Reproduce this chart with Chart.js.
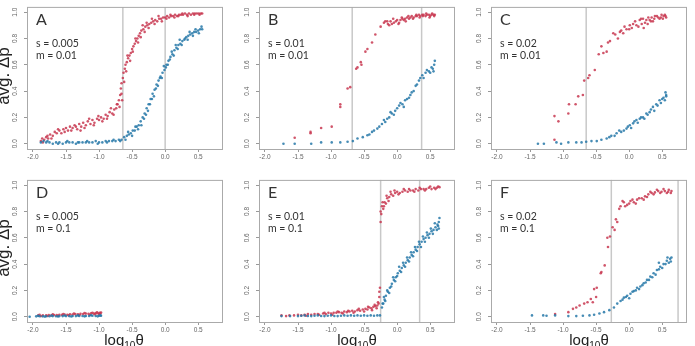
<!DOCTYPE html>
<html>
<head>
<meta charset="utf-8">
<script src="https://cdn.jsdelivr.net/npm/chart.js@4.4.1/dist/chart.umd.min.js"></script>
<style>
  body { margin: 0; background: #fff; width: 695px; height: 346px; position: relative; overflow: hidden; }
  .panel { position: absolute; width: 232px; height: 173px; }
  .tag { position: absolute; font-family: Lato, sans-serif; color: #333; }
  .letter { font-size: 16px; line-height: 16px; }
  .params { font-size: 10.5px; line-height: 12px; }
  .ylab { position: absolute; font-family: "Liberation Sans", sans-serif; font-size: 17px; color: #222;
          transform: translate(-50%, -50%) rotate(-90deg); white-space: nowrap; }
  .xlab { position: absolute; font-family: "Liberation Sans", sans-serif; font-size: 15px; color: #222;
          transform: translateX(-50%); white-space: nowrap; }
  .xlab sub { font-size: 10px; }
</style>
</head>
<body>
<script>
// axis ticks shared by all panels
const xTicks = [-2.0, -1.5, -1.0, -0.5, 0.0, 0.5];
const yTicks = [0.0, 0.2, 0.4, 0.6, 0.8, 1.0];

// panel labels
const letters = ['A', 'B', 'C', 'D', 'E', 'F'];
const sValues = ['0.005', '0.01', '0.02', '0.005', '0.01', '0.02'];
const mValues = ['0.01', '0.01', '0.01', '0.1', '0.1', '0.1'];

// vertical reference lines (log10 theta)
const linesA = [-0.64, 0.0];
const linesB = [-0.68, 0.37];
const linesC = [-0.65];
const linesD = [];
const linesE = [-0.25, 0.34];
const linesF = [-0.27, 0.74];

// [log10 theta, avg dp]
const redA = [[-1.88,0.02],[-1.86,0.04],[-1.83,0.03],[-1.8,0.05],[-1.77,0.04],[-1.74,0.07],[-1.7,0.06],[-1.67,0.09],[-1.64,0.08],[-1.6,0.1],[-1.57,0.08],[-1.54,0.11],[-1.5,0.12],[-1.47,0.1],[-1.44,0.13],[-1.4,0.12],[-1.37,0.14],[-1.33,0.11],[-1.3,0.15],[-1.27,0.13],[-1.24,0.16],[-1.2,0.14],[-1.17,0.17],[-1.13,0.15],[-1.1,0.18],[-1.07,0.16],[-1.03,0.19],[-1.0,0.18],[-0.97,0.2],[-0.93,0.19],[-0.9,0.22],[-0.87,0.21],[-0.84,0.24],[-0.8,0.23],[-0.77,0.26],[-0.74,0.27],[-0.72,0.3],[-0.7,0.33],[-0.68,0.37],[-0.67,0.42],[-0.66,0.46],[-0.64,0.5],[-0.63,0.54],[-0.61,0.57],[-0.6,0.6],[-0.58,0.62],[-0.56,0.65],[-0.54,0.67],[-0.52,0.69],[-0.5,0.72],[-0.48,0.74],[-0.46,0.76],[-0.44,0.78],[-0.42,0.8],[-0.4,0.82],[-0.38,0.84],[-0.36,0.86],[-0.33,0.87],[-0.3,0.89],[-0.27,0.9],[-0.24,0.91],[-0.21,0.92],[-0.18,0.93],[-0.15,0.94],[-0.12,0.93],[-0.09,0.95],[-0.06,0.95],[-0.03,0.96],[0.0,0.96],[0.03,0.97],[0.06,0.96],[0.09,0.97],[0.12,0.97],[0.15,0.98],[0.18,0.97],[0.21,0.98],[0.24,0.98],[0.27,0.98],[0.3,0.99],[0.33,0.98],[0.36,0.99],[0.39,0.98],[0.42,0.99],[0.45,0.99],[0.48,0.99],[0.51,0.99],[0.54,0.99],[0.56,0.99],
    [-1.85,0.01],[-1.78,0.06],[-1.72,0.04],[-1.62,0.11],[-1.52,0.09],[-1.42,0.1],[-1.35,0.13],[-1.28,0.1],[-1.22,0.12],[-1.15,0.19],[-1.08,0.14],[-1.01,0.21],[-0.95,0.17],[-0.88,0.19],[-0.82,0.27],[-0.78,0.22],[-0.73,0.3],[-0.69,0.28],[-0.66,0.38],[-0.65,0.33],[-0.62,0.47],[-0.59,0.55],[-0.57,0.67],[-0.53,0.63],[-0.49,0.7],[-0.45,0.8],[-0.41,0.77],[-0.37,0.81],[-0.34,0.9],[-0.31,0.85],[-0.28,0.92],[-0.25,0.88],[-0.2,0.95],[-0.16,0.91],[-0.1,0.97],[-0.05,0.93],[0.02,0.95],[0.08,0.98],[0.14,0.96],[0.2,0.97],[0.26,0.99],[0.34,0.97],[0.44,0.98],[0.52,0.98]];
const blueA = [[-1.88,0.01],[-1.84,0.02],[-1.8,0.01],[-1.75,0.01],[-1.7,0.0],[-1.65,0.01],[-1.6,0.01],[-1.55,0.0],[-1.5,0.01],[-1.45,0.01],[-1.4,0.01],[-1.35,0.0],[-1.3,0.01],[-1.25,0.01],[-1.2,0.01],[-1.15,0.01],[-1.1,0.01],[-1.05,0.02],[-1.0,0.01],[-0.95,0.01],[-0.9,0.02],[-0.85,0.02],[-0.8,0.02],[-0.75,0.02],[-0.7,0.03],[-0.66,0.03],[-0.62,0.05],[-0.58,0.06],[-0.55,0.07],[-0.52,0.08],[-0.49,0.1],[-0.46,0.1],[-0.43,0.13],[-0.4,0.14],[-0.37,0.17],[-0.34,0.2],[-0.31,0.23],[-0.28,0.27],[-0.25,0.3],[-0.22,0.34],[-0.19,0.38],[-0.16,0.41],[-0.13,0.45],[-0.1,0.48],[-0.07,0.51],[-0.04,0.54],[-0.01,0.56],[0.02,0.6],[0.05,0.63],[0.08,0.66],[0.11,0.68],[0.14,0.71],[0.17,0.73],[0.2,0.75],[0.23,0.76],[0.26,0.78],[0.29,0.79],[0.32,0.81],[0.35,0.82],[0.38,0.83],[0.41,0.84],[0.44,0.85],[0.47,0.85],[0.5,0.86],[0.53,0.87],[0.56,0.87],
    [-1.78,0.02],[-1.62,0.0],[-1.48,0.02],[-1.32,0.01],[-1.18,0.02],[-1.02,0.0],[-0.88,0.01],[-0.78,0.03],[-0.68,0.02],[-0.6,0.03],[-0.56,0.09],[-0.5,0.06],[-0.45,0.13],[-0.41,0.11],[-0.36,0.14],[-0.32,0.19],[-0.29,0.22],[-0.26,0.25],[-0.23,0.3],[-0.2,0.34],[-0.17,0.36],[-0.14,0.42],[-0.11,0.44],[-0.08,0.5],[-0.05,0.5],[-0.02,0.59],[0.01,0.58],[0.04,0.6],[0.07,0.64],[0.1,0.7],[0.13,0.67],[0.16,0.75],[0.19,0.72],[0.22,0.79],[0.25,0.75],[0.3,0.8],[0.34,0.79],[0.37,0.85],[0.42,0.82],[0.46,0.87],[0.51,0.84],[0.55,0.89]];

const redB = [[-1.55,0.045],[-1.31,0.08],[-1.31,0.09],[-1.15,0.12],[-0.99,0.13],[-0.86,0.3],[-0.86,0.28],[-0.75,0.42],[-0.71,0.43],[-0.62,0.57],[-0.6,0.58],[-0.55,0.62],[-0.54,0.6],[-0.48,0.7],[-0.45,0.72],[-0.38,0.77],[-0.33,0.83],[-0.25,0.89],[-0.2,0.92],[-0.18,0.93],[-0.14,0.91],[-0.12,0.9],[-0.1,0.93],[-0.08,0.91],[-0.05,0.92],[-0.02,0.93],[0.0,0.94],[0.03,0.92],[0.05,0.94],[0.08,0.95],[0.1,0.94],[0.12,0.95],[0.15,0.96],[0.18,0.95],[0.2,0.96],[0.22,0.97],[0.25,0.96],[0.28,0.97],[0.3,0.97],[0.33,0.98],[0.35,0.97],[0.38,0.98],[0.4,0.98],[0.43,0.97],[0.45,0.98],[0.48,0.98],[0.5,0.97],[0.52,0.98],[0.55,0.98],[0.57,0.98],
    [-0.15,0.93],[-0.06,0.95],[0.02,0.91],[0.07,0.96],[0.13,0.93],[0.17,0.97],[0.24,0.95],[0.29,0.98],[0.34,0.96],[0.39,0.97],[0.44,0.99],[0.49,0.96],[0.53,0.99],[0.56,0.97]];
const blueB = [[-1.72,0.0],[-1.55,0.0],[-1.3,0.0],[-1.15,0.01],[-0.99,0.01],[-0.86,0.01],[-0.75,0.015],[-0.67,0.02],[-0.6,0.04],[-0.52,0.05],[-0.45,0.065],[-0.38,0.09],[-0.3,0.115],[-0.23,0.15],[-0.18,0.165],[-0.12,0.2],[-0.08,0.23],[-0.03,0.25],[0.03,0.29],[0.08,0.3],[0.12,0.33],[0.18,0.35],[0.22,0.39],[0.28,0.44],[0.33,0.48],[0.38,0.52],[0.43,0.54],[0.48,0.55],[0.52,0.58],[0.57,0.63],
    [-0.42,0.07],[-0.35,0.1],[-0.27,0.13],[-0.2,0.18],[-0.15,0.19],[-0.1,0.24],[-0.05,0.22],[0.0,0.27],[0.05,0.31],[0.1,0.28],[0.15,0.34],[0.2,0.37],[0.25,0.4],[0.3,0.45],[0.35,0.5],[0.4,0.5],[0.45,0.56],[0.5,0.54],[0.54,0.57],[0.56,0.6],[0.55,0.55]];

const redC = [[-1.13,0.03],[-1.13,0.21],[-1.07,0.17],[-0.92,0.23],[-0.91,0.3],[-0.81,0.3],[-0.77,0.36],[-0.7,0.37],[-0.68,0.48],[-0.62,0.5],[-0.6,0.52],[-0.52,0.56],[-0.46,0.68],[-0.42,0.74],[-0.39,0.69],[-0.34,0.7],[-0.32,0.77],[-0.29,0.78],[-0.24,0.84],[-0.21,0.83],[-0.17,0.8],[-0.14,0.85],[-0.09,0.84],[-0.07,0.89],[-0.04,0.87],[0.01,0.9],[0.04,0.88],[0.09,0.93],[0.11,0.9],[0.16,0.94],[0.19,0.91],[0.21,0.95],[0.24,0.92],[0.29,0.96],[0.31,0.94],[0.34,0.96],[0.36,0.93],[0.39,0.97],[0.44,0.96],[0.46,0.95],[0.49,0.98],[0.52,0.97],[0.55,0.97],
    [0.0,0.87],[0.06,0.91],[0.14,0.89],[0.18,0.95],[0.26,0.94],[0.33,0.93],[0.38,0.95],[0.42,0.97],[0.48,0.96],[0.51,0.95],[0.54,0.98],[0.56,0.96],[0.22,0.88],[0.28,0.91],[-0.12,0.86]];
const blueC = [[-1.38,0.0],[-1.29,0.0],[-1.1,0.01],[-1.03,0.0],[-0.92,0.01],[-0.8,0.01],[-0.72,0.01],[-0.65,0.015],[-0.57,0.02],[-0.49,0.02],[-0.42,0.03],[-0.34,0.04],[-0.27,0.06],[-0.19,0.08],[-0.12,0.09],[-0.04,0.115],[0.01,0.14],[0.06,0.155],[0.11,0.18],[0.16,0.19],[0.21,0.2],[0.26,0.23],[0.31,0.24],[0.36,0.28],[0.41,0.3],[0.46,0.33],[0.52,0.35],[0.55,0.39],
    [-0.3,0.05],[-0.22,0.06],[-0.15,0.1],[-0.08,0.1],[-0.02,0.13],[0.03,0.12],[0.08,0.17],[0.13,0.16],[0.18,0.2],[0.23,0.19],[0.28,0.22],[0.33,0.26],[0.38,0.25],[0.43,0.29],[0.48,0.31],[0.5,0.34],[0.54,0.33],[0.56,0.37],[0.56,0.36]];

const redD = [[-1.92,0.01],[-1.88,0.005],[-1.85,0.01],[-1.8,0.01],[-1.76,0.012],[-1.72,0.01],[-1.68,0.013],[-1.64,0.012],[-1.6,0.015],[-1.56,0.014],[-1.52,0.016],[-1.48,0.015],[-1.44,0.018],[-1.4,0.017],[-1.36,0.02],[-1.32,0.018],[-1.28,0.022],[-1.24,0.02],[-1.2,0.024],[-1.16,0.022],[-1.12,0.026],[-1.08,0.024],[-1.05,0.028],[-1.02,0.027],[-0.99,0.03],[-0.97,0.032],
    [-1.9,0.015],[-1.78,0.006],[-1.7,0.018],[-1.62,0.008],[-1.54,0.02],[-1.46,0.01],[-1.38,0.024],[-1.3,0.012],[-1.22,0.028],[-1.14,0.015],[-1.1,0.03],[-1.06,0.018],[-1.03,0.034],[-1.0,0.02],[-0.98,0.025]];
const blueD = [[-2.05,0.0],[-1.95,0.003],[-1.9,0.004],[-1.85,0.003],[-1.8,0.004],[-1.75,0.004],[-1.7,0.005],[-1.65,0.004],[-1.6,0.005],[-1.55,0.005],[-1.5,0.005],[-1.45,0.005],[-1.4,0.006],[-1.35,0.005],[-1.3,0.006],[-1.25,0.006],[-1.2,0.006],[-1.15,0.006],[-1.1,0.007],[-1.05,0.006],[-1.0,0.007],[-0.97,0.007],
    [-1.92,0.008],[-1.82,0.001],[-1.72,0.009],[-1.62,0.002],[-1.52,0.009],[-1.42,0.002],[-1.32,0.01],[-1.22,0.003],[-1.12,0.011],[-1.02,0.003],[-0.98,0.01]];

const redE = [[-1.75,0.01],[-1.68,0.005],[-1.63,0.01],[-1.56,0.01],[-1.5,0.015],[-1.45,0.01],[-1.4,0.015],[-1.35,0.02],[-1.3,0.015],[-1.25,0.02],[-1.2,0.02],[-1.12,0.025],[-1.08,0.02],[-1.04,0.03],[-1.0,0.025],[-0.96,0.03],[-0.92,0.03],[-0.88,0.035],[-0.84,0.03],[-0.8,0.04],[-0.76,0.035],[-0.72,0.04],[-0.68,0.045],[-0.64,0.04],[-0.6,0.05],[-0.56,0.045],[-0.52,0.055],[-0.48,0.06],[-0.45,0.055],[-0.42,0.07],[-0.39,0.065],[-0.36,0.075],[-0.33,0.08],[-0.3,0.085],[-0.28,0.1],[-0.27,0.15],[-0.26,0.22],[-0.25,0.72],[-0.24,0.78],[-0.23,0.84],[-0.21,0.82],[-0.19,0.87],[-0.17,0.86],[-0.15,0.9],[-0.12,0.91],[-0.09,0.93],[-0.06,0.92],[-0.03,0.94],[0.0,0.95],[0.04,0.94],[0.08,0.95],[0.12,0.96],[0.16,0.95],[0.2,0.96],[0.24,0.96],[0.28,0.97],[0.32,0.96],[0.36,0.97],[0.4,0.97],[0.44,0.97],[0.48,0.98],[0.52,0.97],[0.56,0.98],[0.6,0.98],[0.64,0.985],
    [-1.38,0.008],[-1.18,0.015],[-1.1,0.03],[-0.98,0.015],[-0.9,0.04],[-0.82,0.025],[-0.74,0.045],[-0.66,0.03],[-0.58,0.06],[-0.5,0.04],[-0.44,0.075],[-0.38,0.05],[-0.34,0.09],[-0.31,0.065],[-0.29,0.11],[-0.27,0.19],[-0.25,0.8],[-0.22,0.87],[-0.2,0.84],[-0.16,0.92],[-0.13,0.88],[-0.1,0.95],[-0.04,0.96],[0.02,0.93],[0.1,0.97],[0.18,0.97],[0.26,0.95],[0.34,0.98],[0.42,0.96],[0.5,0.99],[0.58,0.97],[0.62,0.99]];
const blueE = [[-1.75,0.005],[-1.62,0.005],[-1.5,0.005],[-1.45,0.008],[-1.4,0.01],[-1.35,0.006],[-1.3,0.005],[-1.25,0.008],[-1.2,0.01],[-1.15,0.006],[-1.1,0.005],[-1.05,0.008],[-1.0,0.01],[-0.95,0.006],[-0.9,0.005],[-0.85,0.008],[-0.8,0.01],[-0.75,0.008],[-0.7,0.01],[-0.65,0.008],[-0.6,0.01],[-0.55,0.008],[-0.5,0.01],[-0.45,0.008],[-0.4,0.01],[-0.35,0.008],[-0.3,0.01],[-0.26,0.01],[-0.23,0.07],[-0.21,0.1],[-0.19,0.13],[-0.17,0.16],[-0.14,0.19],[-0.11,0.22],[-0.08,0.25],[-0.05,0.28],[-0.02,0.3],[0.01,0.33],[0.04,0.35],[0.07,0.37],[0.1,0.39],[0.13,0.41],[0.16,0.43],[0.19,0.45],[0.22,0.47],[0.25,0.49],[0.28,0.51],[0.31,0.53],[0.34,0.55],[0.37,0.57],[0.4,0.59],[0.43,0.6],[0.46,0.62],[0.49,0.63],[0.52,0.65],[0.55,0.66],[0.58,0.68],[0.61,0.7],[0.63,0.72],[0.64,0.75],
    [-0.22,0.1],[-0.2,0.15],[-0.18,0.12],[-0.15,0.2],[-0.12,0.18],[-0.09,0.23],[-0.06,0.3],[-0.03,0.27],[0.0,0.31],[0.03,0.38],[0.06,0.34],[0.09,0.41],[0.12,0.38],[0.15,0.45],[0.18,0.42],[0.21,0.49],[0.24,0.46],[0.27,0.53],[0.3,0.5],[0.33,0.57],[0.36,0.53],[0.39,0.61],[0.42,0.57],[0.45,0.64],[0.48,0.6],[0.51,0.67],[0.54,0.63],[0.57,0.71],[0.6,0.66],[0.62,0.69],[0.63,0.67]];

const redF = [[-1.12,0.02],[-0.92,0.035],[-0.85,0.06],[-0.8,0.07],[-0.75,0.085],[-0.68,0.1],[-0.63,0.11],[-0.58,0.135],[-0.55,0.11],[-0.53,0.21],[-0.5,0.15],[-0.49,0.22],[-0.43,0.33],[-0.42,0.34],[-0.37,0.39],[-0.33,0.6],[-0.32,0.53],[-0.29,0.61],[-0.25,0.68],[-0.22,0.66],[-0.2,0.74],[-0.18,0.72],[-0.15,0.82],[-0.13,0.84],[-0.08,0.87],[-0.03,0.85],[0.02,0.88],[0.07,0.87],[0.12,0.89],[0.19,0.9],[0.24,0.915],[0.29,0.93],[0.34,0.94],[0.39,0.945],[0.44,0.955],[0.49,0.95],[0.54,0.955],[0.59,0.95],[0.64,0.955],
    [0.0,0.86],[0.05,0.89],[0.1,0.86],[0.15,0.9],[0.22,0.89],[0.27,0.91],[0.32,0.95],[0.37,0.93],[0.42,0.965],[0.47,0.94],[0.52,0.97],[0.57,0.94],[0.6,0.965],[0.63,0.94],[-0.06,0.84],[-0.1,0.88]];
const blueF = [[-1.47,0.01],[-1.3,0.01],[-1.25,0.007],[-1.12,0.01],[-0.92,0.005],[-0.8,0.005],[-0.7,0.007],[-0.6,0.01],[-0.53,0.015],[-0.45,0.025],[-0.38,0.035],[-0.3,0.05],[-0.23,0.07],[-0.18,0.1],[-0.13,0.12],[-0.08,0.145],[-0.03,0.16],[0.02,0.175],[0.07,0.195],[0.12,0.22],[0.17,0.23],[0.22,0.255],[0.27,0.28],[0.32,0.305],[0.37,0.33],[0.42,0.355],[0.47,0.38],[0.52,0.4],[0.57,0.425],[0.62,0.44],[0.64,0.45],
    [-0.1,0.13],[-0.05,0.15],[0.0,0.14],[0.05,0.19],[0.1,0.2],[0.15,0.21],[0.2,0.24],[0.25,0.26],[0.3,0.28],[0.35,0.3],[0.4,0.32],[0.45,0.36],[0.5,0.37],[0.55,0.4],[0.6,0.41],[0.63,0.42],[0.58,0.45],[0.45,0.41]];

const redSets = [redA, redB, redC, redD, redE, redF];
const blueSets = [blueA, blueB, blueC, blueD, blueE, blueF];
const lineSets = [linesA, linesB, linesC, linesD, linesE, linesF];

const RED = 'rgba(200, 55, 80, 0.85)';
const BLUE = 'rgba(38, 120, 168, 0.85)';

// box, reference lines and rotated y tick labels (R style)
const framePlugin = {
    id: 'frame',
    beforeDatasetsDraw(chart, args, opts) {
        const { ctx, chartArea: a, scales } = chart;
        ctx.save();
        ctx.strokeStyle = '#c8c8c8';
        ctx.lineWidth = 1.5;
        (opts.cuts || []).forEach(v => {
            const px = scales.x.getPixelForValue(v);
            ctx.beginPath();
            ctx.moveTo(px, a.top);
            ctx.lineTo(px, a.bottom);
            ctx.stroke();
        });
        ctx.restore();
    },
    afterDraw(chart) {
        const { ctx, chartArea: a, scales } = chart;
        ctx.save();
        ctx.strokeStyle = '#aaaaaa';
        ctx.lineWidth = 1;
        ctx.strokeRect(a.left + 0.5, a.top + 0.5, a.right - a.left, a.bottom - a.top);
        ctx.fillStyle = '#666';
        ctx.font = '6.5px "Liberation Sans"';
        ctx.textAlign = 'center';
        ctx.textBaseline = 'middle';
        yTicks.forEach(v => {
            const py = scales.y.getPixelForValue(v);
            ctx.save();
            ctx.translate(a.left - 12, py);
            ctx.rotate(-Math.PI / 2);
            ctx.fillText(v.toFixed(1), 0, 0);
            ctx.restore();
        });
        ctx.restore();
    }
};

function makePanel(i) {
    const col = i % 3, row = Math.floor(i / 3);
    const div = document.createElement('div');
    div.className = 'panel';
    div.style.left = (col * 232) + 'px';
    div.style.top = (row * 173) + 'px';
    const canvas = document.createElement('canvas');
    canvas.width = 232;
    canvas.height = 173;
    div.appendChild(canvas);
    document.body.appendChild(div);

    const letter = document.createElement('div');
    letter.className = 'tag letter';
    letter.style.left = (col * 232 + 36) + 'px';
    letter.style.top = (row * 173 + 11) + 'px';
    letter.textContent = letters[i];
    document.body.appendChild(letter);

    const params = document.createElement('div');
    params.className = 'tag params';
    params.style.left = (col * 232 + 36) + 'px';
    params.style.top = (row * 173 + 37) + 'px';
    params.innerHTML = 's = ' + sValues[i] + '<br>m = ' + mValues[i];
    document.body.appendChild(params);

    new Chart(canvas, {
        type: 'scatter',
        data: {
            datasets: [
                { label: 'blue', data: blueSets[i].map(p => ({ x: p[0], y: p[1] })), backgroundColor: BLUE, order: 0 },
                { label: 'red', data: redSets[i].map(p => ({ x: p[0], y: p[1] })), backgroundColor: RED, order: 1 }
            ]
        },
        options: {
            responsive: false,
            animation: false,
            devicePixelRatio: 1,
            layout: { padding: { top: 5, right: 10, left: 0, bottom: 0 } },
            elements: { point: { radius: 1.3, borderWidth: 0, hoverRadius: 1.3 } },
            plugins: {
                legend: { display: false },
                tooltip: { enabled: false },
                frame: { cuts: lineSets[i] }
            },
            scales: {
                x: {
                    type: 'linear', min: -2.09, max: 0.86,
                    afterBuildTicks: s => { s.ticks = xTicks.map(v => ({ value: v })); },
                    afterFit: s => { s.height = 24; },
                    grid: { drawOnChartArea: false, drawTicks: true, tickLength: 3, color: '#999' },
                    border: { display: false },
                    ticks: {
                        color: '#666', font: { size: 6.5, family: 'Liberation Sans' }, padding: 1,
                        maxRotation: 0, autoSkip: false,
                        callback: v => Number(v).toFixed(1)
                    }
                },
                y: {
                    type: 'linear', min: -0.04, max: 1.04,
                    afterBuildTicks: s => { s.ticks = yTicks.map(v => ({ value: v })); },
                    afterFit: s => { s.width = 27; },
                    grid: { drawOnChartArea: false, drawTicks: true, tickLength: 3, color: '#999' },
                    border: { display: false },
                    ticks: { color: 'rgba(0,0,0,0)', font: { size: 6.5 } }
                }
            }
        },
        plugins: [framePlugin]
    });
}

function init() {
    for (let i = 0; i < 6; i++) makePanel(i);

    [76, 248].forEach(cy => {
        const t = document.createElement('div');
        t.className = 'ylab';
        t.style.left = '4px';
        t.style.top = cy + 'px';
        t.textContent = 'avg. Δp';
        document.body.appendChild(t);
    });
    [124, 357, 589].forEach(cx => {
        const t = document.createElement('div');
        t.className = 'xlab';
        t.style.left = cx + 'px';
        t.style.top = '331px';
        t.innerHTML = 'log<sub>10</sub>θ';
        document.body.appendChild(t);
    });
}
init();
</script>
</body>
</html>
